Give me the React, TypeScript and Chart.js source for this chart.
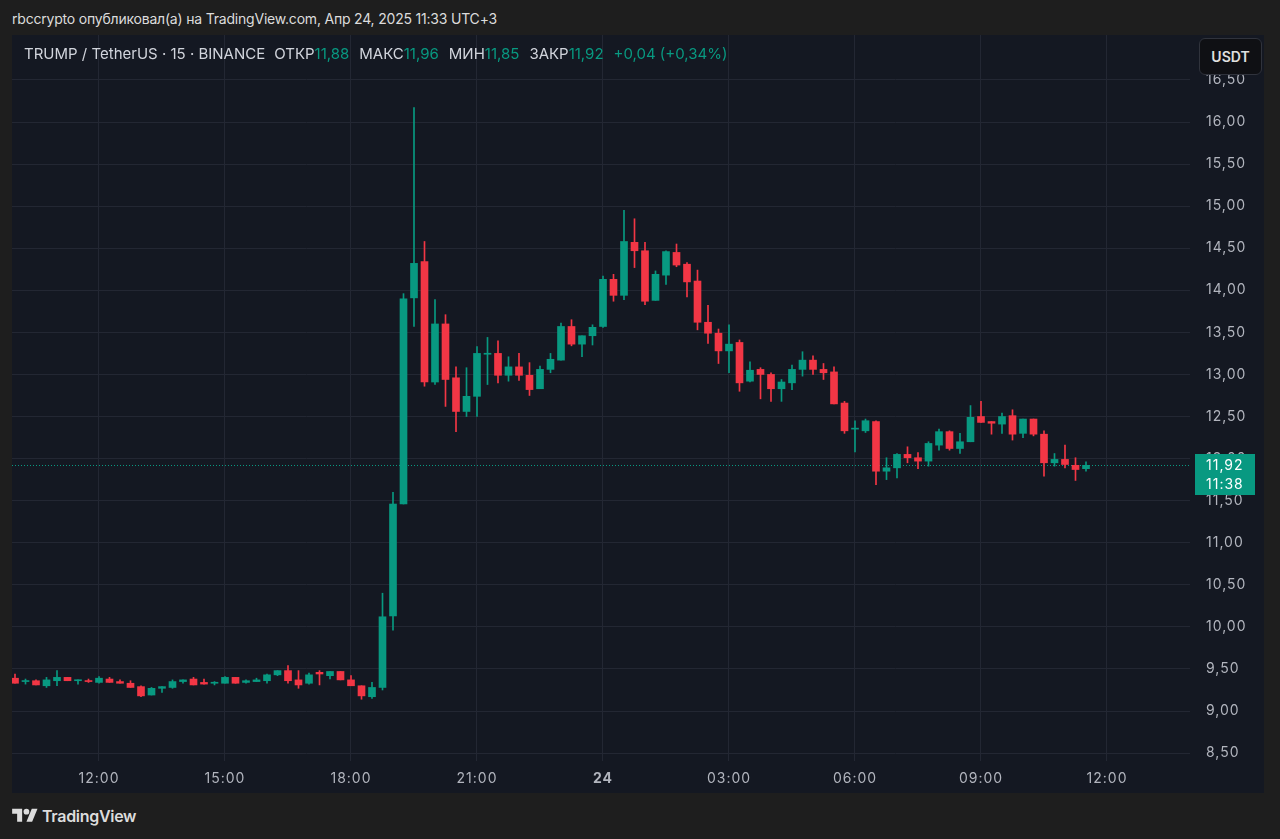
import React, { useEffect, useRef } from "react";
import { Chart, registerables } from "chart.js";

Chart.register(...registerables);

// 15-minute candles, index 0 = 10:00 (Apr 23) ... index 102 = 11:30 (Apr 24)
const opens = [
  9.39, 9.35, 9.36, 9.30, 9.36, 9.40, 9.36, 9.36, 9.34, 9.38,
  9.35, 9.33, 9.29, 9.19, 9.27, 9.28, 9.35, 9.38, 9.34, 9.33,
  9.33, 9.40, 9.34, 9.35, 9.36, 9.43, 9.48, 9.37, 9.33, 9.46,
  9.42, 9.47, 9.37, 9.30, 9.17, 9.28, 10.13, 11.46, 13.91, 14.34,
  12.91, 13.60, 12.96, 12.56, 12.74, 13.24, 13.25, 12.99, 13.09, 12.99,
  12.83, 13.06, 13.17, 13.57, 13.36, 13.46, 13.57, 14.13, 13.94, 14.57,
  14.47, 13.88, 14.18, 14.45, 14.31, 14.11, 13.62, 13.49, 13.28, 13.38,
  12.92, 13.06, 13.00, 12.83, 12.90, 13.06, 13.17, 13.06, 13.03, 12.66,
  12.35, 12.33, 12.44, 11.85, 11.89, 12.05, 12.01, 11.97, 12.16, 12.32,
  12.12, 12.20, 12.50, 12.44, 12.41, 12.51, 12.30, 12.47, 12.29, 11.95,
  11.99, 11.92, 11.88,
];
const highs = [
  9.44, 9.38, 9.37, 9.40, 9.48, 9.40, 9.37, 9.38, 9.41, 9.40,
  9.37, 9.36, 9.30, 9.28, 9.29, 9.37, 9.37, 9.40, 9.38, 9.35,
  9.41, 9.40, 9.37, 9.39, 9.44, 9.48, 9.54, 9.48, 9.45, 9.48,
  9.47, 9.47, 9.42, 9.30, 9.34, 10.40, 11.60, 13.96, 16.17, 14.58,
  13.89, 13.71, 13.09, 13.08, 13.33, 13.44, 13.40, 13.21, 13.25, 13.14,
  13.10, 13.25, 13.61, 13.65, 13.46, 13.59, 14.17, 14.19, 14.95, 14.85,
  14.57, 14.23, 14.47, 14.55, 14.33, 14.24, 13.82, 13.54, 13.59, 13.41,
  13.15, 13.08, 13.02, 12.94, 13.11, 13.27, 13.22, 13.13, 13.09, 12.68,
  12.45, 12.47, 12.45, 12.01, 12.06, 12.14, 12.07, 12.20, 12.35, 12.33,
  12.30, 12.63, 12.68, 12.44, 12.54, 12.58, 12.47, 12.47, 12.33, 12.06,
  12.16, 12.01, 11.96,
];
const lows = [
  9.33, 9.32, 9.31, 9.28, 9.30, 9.36, 9.32, 9.34, 9.33, 9.34,
  9.33, 9.28, 9.17, 9.19, 9.22, 9.27, 9.33, 9.31, 9.32, 9.31,
  9.33, 9.33, 9.33, 9.35, 9.33, 9.42, 9.33, 9.27, 9.32, 9.31,
  9.38, 9.37, 9.30, 9.14, 9.15, 9.25, 9.96, 11.46, 13.57, 12.86,
  12.88, 12.62, 12.32, 12.50, 12.50, 12.88, 12.90, 12.92, 12.93, 12.75,
  12.83, 13.02, 13.17, 13.34, 13.21, 13.35, 13.56, 13.87, 13.89, 14.27,
  13.83, 13.88, 14.07, 14.28, 13.92, 13.53, 13.37, 13.13, 13.02, 12.80,
  12.91, 12.71, 12.68, 12.68, 12.82, 12.98, 13.00, 12.94, 12.65, 12.30,
  12.08, 12.31, 11.69, 11.75, 11.77, 11.95, 11.88, 11.91, 12.10, 12.10,
  12.06, 12.20, 12.43, 12.29, 12.30, 12.22, 12.25, 12.27, 11.79, 11.91,
  11.89, 11.74, 11.85,
];
const closes = [
  9.33, 9.36, 9.31, 9.37, 9.40, 9.36, 9.37, 9.35, 9.39, 9.34,
  9.33, 9.28, 9.18, 9.27, 9.29, 9.35, 9.37, 9.31, 9.32, 9.34,
  9.40, 9.33, 9.36, 9.37, 9.43, 9.48, 9.36, 9.31, 9.43, 9.44,
  9.47, 9.37, 9.30, 9.18, 9.28, 10.12, 11.46, 13.90, 14.32, 12.91,
  13.60, 12.94, 12.56, 12.74, 13.25, 13.25, 12.99, 13.09, 12.99, 12.82,
  13.06, 13.18, 13.57, 13.36, 13.46, 13.56, 14.13, 13.94, 14.58, 14.47,
  13.87, 14.19, 14.46, 14.30, 14.10, 13.62, 13.49, 13.28, 13.36, 12.90,
  13.05, 13.00, 12.83, 12.91, 13.06, 13.17, 13.06, 13.02, 12.65, 12.33,
  12.36, 12.45, 11.85, 11.89, 12.05, 12.01, 11.97, 12.18, 12.32, 12.12,
  12.20, 12.49, 12.43, 12.42, 12.50, 12.29, 12.47, 12.29, 11.95, 11.99,
  11.93, 11.87, 11.92,
];

const timeTickIndex = [8, 20, 32, 44, 56, 68, 80, 92, 104];
const timeTickLabels = ["12:00", "15:00", "18:00", "21:00", "24", "03:00", "06:00", "09:00", "12:00"];
const priceTicks = [8.5, 9, 9.5, 10, 10.5, 11, 11.5, 12, 12.5, 13, 13.5, 14, 14.5, 15, 15.5, 16, 16.5];

const lastClose = 11.92;
const countdown = "11:38";

const GREEN = "#089981";
const RED = "#F23645";
const FONT = "Inter, 'Noto Sans', sans-serif";

const fmt = (v: number) => v.toFixed(2).replace(".", ",");

const priceLinePlugin = {
  id: "priceLine",
  beforeDraw(chart: any) {
    chart.ctx.letterSpacing = "1px";
  },
  beforeDatasetsDraw(chart: any) {
    const { ctx, chartArea } = chart;
    const y = Math.round(chart.scales.y.getPixelForValue(lastClose)) + 0.5;
    ctx.save();
    ctx.strokeStyle = GREEN;
    ctx.lineWidth = 1;
    ctx.setLineDash([1, 2]);
    ctx.beginPath();
    ctx.moveTo(chartArea.left, y);
    ctx.lineTo(chartArea.right, y);
    ctx.stroke();
    ctx.restore();
  },
  afterDraw(chart: any) {
    const { ctx, chartArea } = chart;
    const y = chart.scales.y.getPixelForValue(lastClose);
    const left = chartArea.right + 5;
    ctx.save();
    ctx.fillStyle = GREEN;
    ctx.fillRect(left, Math.round(y - 11), 60, 41);
    ctx.fillStyle = "#ffffff";
    ctx.font = `14px ${FONT}`;
    ctx.letterSpacing = "1px";
    ctx.textBaseline = "middle";
    ctx.textAlign = "left";
    ctx.fillText(fmt(lastClose), chartArea.right + 16, y);
    ctx.fillText(countdown, chartArea.right + 16, y + 19);
    ctx.restore();
  },
};

export default function App() {
  const ref = useRef<HTMLCanvasElement>(null);

  useEffect(() => {
    document.body.style.margin = "0";
    document.body.style.background = "#1e1e1e";
    const canvas = ref.current!;
    const colors = closes.map((c, i) => (c >= opens[i] ? GREEN : RED));
    const wickData = lows.map((l, i) => ({ x: i, y: [l, highs[i]] }));
    const bodyData = opens.map((o, i) => ({ x: i, y: [o, closes[i]] }));

    const chart = new Chart(canvas, {
      type: "bar",
      data: {
        datasets: [
          {
            data: wickData as any,
            backgroundColor: colors,
            barThickness: 1,
            grouped: false,
            order: 2,
            borderWidth: 0,
          } as any,
          {
            data: bodyData as any,
            backgroundColor: colors,
            barThickness: 7,
            grouped: false,
            order: 1,
            borderWidth: 0,
            minBarLength: 1,
          } as any,
        ],
      },
      options: {
        animation: false,
        responsive: false,
        devicePixelRatio: 1,
        layout: { padding: 0 },
        plugins: { legend: { display: false }, tooltip: { enabled: false } },
        scales: {
          x: {
            type: "linear",
            min: -0.2857,
            max: 111.905,
            offset: false,
            grid: { color: "#232733", drawTicks: false, offset: false },
            border: { display: false },
            afterBuildTicks: (s: any) => {
              s.ticks = timeTickIndex.map((v) => ({ value: v }));
            },
            afterFit: (s: any) => {
              s.height = 32;
              s.paddingLeft = 0;
              s.paddingRight = 0;
              s.paddingTop = 0;
              s.paddingBottom = 0;
            },
            ticks: {
              autoSkip: false,
              maxRotation: 0,
              padding: 9,
              color: "#b2b5be",
              font: (c: any) =>
                c.tick && c.tick.value === 56
                  ? { family: FONT, size: 14, weight: "bold" }
                  : { family: FONT, size: 14 },
              callback: (v: any) => {
                const k = timeTickIndex.indexOf(Number(v));
                return k >= 0 ? timeTickLabels[k] : "";
              },
            },
          },
          y: {
            type: "linear",
            position: "right",
            min: 8.406,
            max: 17.034,
            grid: { color: "#232733", drawTicks: false },
            border: { display: false },
            afterBuildTicks: (s: any) => {
              s.ticks = priceTicks.map((v) => ({ value: v }));
            },
            afterFit: (s: any) => {
              s.width = 74;
              s.paddingTop = 0;
              s.paddingBottom = 0;
              s.paddingLeft = 0;
              s.paddingRight = 0;
            },
            ticks: {
              padding: 16,
              color: "#b2b5be",
              font: { family: FONT, size: 14 },
              callback: (v: any) => fmt(Number(v)),
            },
          },
        },
      },
      plugins: [priceLinePlugin],
    } as any);
    return () => chart.destroy();
  }, []);

  const legendLabel: React.CSSProperties = { color: "#d1d4dc" };
  const legendValue: React.CSSProperties = { color: GREEN, marginRight: 10 };

  return (
    <div
      style={{
        position: "relative",
        width: 1280,
        height: 839,
        background: "#1e1e1e",
        overflow: "hidden",
        fontFamily: FONT,
      }}
    >
      <div
        style={{
          position: "absolute",
          left: 12,
          top: 9,
          fontSize: 14,
          letterSpacing: -0.2,
          lineHeight: "20px",
          color: "#dcdcdc",
          whiteSpace: "nowrap",
        }}
      >
        rbccrypto опубликовал(а) на TradingView.com, Апр 24, 2025 11:33 UTC+3
      </div>

      <div
        style={{
          position: "absolute",
          left: 12,
          top: 35,
          width: 1252,
          height: 758,
          background: "#141822",
        }}
      >
        <canvas
          ref={ref}
          width={1252}
          height={758}
          style={{ display: "block", width: 1252, height: 758 }}
        />
        <div
          style={{
            position: "absolute",
            left: 12,
            top: 10,
            fontSize: 15,
            lineHeight: "18px",
            whiteSpace: "nowrap",
            display: "flex",
          }}
        >
          <span style={{ ...legendLabel, marginRight: 9 }}>TRUMP / TetherUS · 15 · BINANCE</span>
          <span style={legendLabel}>ОТКР</span>
          <span style={legendValue}>11,88</span>
          <span style={legendLabel}>МАКС</span>
          <span style={legendValue}>11,96</span>
          <span style={legendLabel}>МИН</span>
          <span style={legendValue}>11,85</span>
          <span style={legendLabel}>ЗАКР</span>
          <span style={legendValue}>11,92</span>
          <span style={{ color: GREEN }}>+0,04 (+0,34%)</span>
        </div>
        <div
          style={{
            position: "absolute",
            left: 1187,
            top: 3,
            width: 61,
            height: 35,
            background: "#0f1014",
            border: "1px solid #30333c",
            borderRadius: 6,
            color: "#e0e0e0",
            fontSize: 14,
            fontWeight: 600,
            display: "flex",
            alignItems: "center",
            justifyContent: "center",
          }}
        >
          USDT
        </div>
      </div>

      <div
        style={{
          position: "absolute",
          left: 12,
          top: 806,
          display: "flex",
          alignItems: "center",
          color: "#dcdcdc",
        }}
      >
        <svg width="26" height="20" viewBox="0 0 36 28" style={{ marginRight: 4 }}>
          <path d="M14 22H7V11H0V4h14v18z" fill="#dcdcdc" />
          <circle cx="20" cy="8" r="4" fill="#dcdcdc" />
          <path d="M28 22h-8l7.5-18h8L28 22z" fill="#dcdcdc" />
        </svg>
        <span style={{ fontSize: 16, fontWeight: 600, letterSpacing: -0.3 }}>TradingView</span>
      </div>
    </div>
  );
}
